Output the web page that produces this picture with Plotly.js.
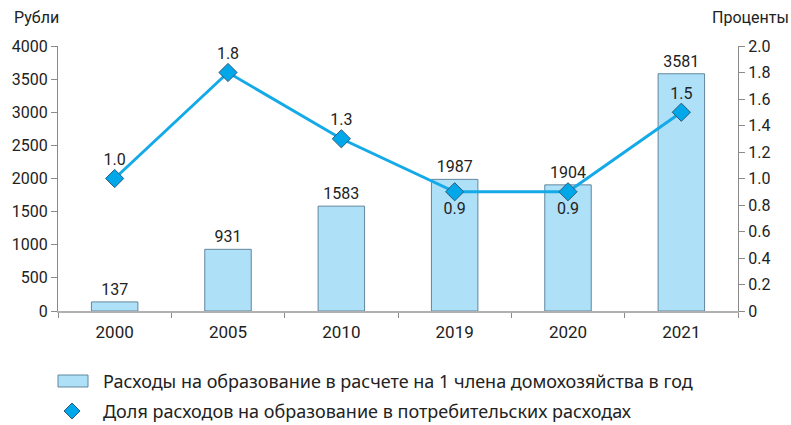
<!DOCTYPE html>
<html><head><meta charset="utf-8">
<script src="https://cdn.plot.ly/plotly-3.0.1.min.js"></script>
<style>body{margin:0;background:#fff}#c{width:791px;height:425px}</style>
</head><body><div id="c"></div>
<script>
const categories = ["2000","2005","2010","2019","2020","2021"];
const spending = [137, 931, 1583, 1987, 1904, 3581];
const share = [1.0, 1.8, 1.3, 0.9, 0.9, 1.5];
const shareLabelPos = ["top center","top center","top center","bottom center","bottom center","top center"];
const rightTickVals = [0, 0.2, 0.4, 0.6, 0.8, 1.0, 1.2, 1.4, 1.6, 1.8, 2.0];
const rightTickText = ["0", "0.2", "0.4", "0.6", "0.8", "1.0", "1.2", "1.4", "1.6", "1.8", "2.0"];
const barName = "Расходы на образование в расчете на 1 члена домохозяйства в год";
const lineName = "Доля расходов на образование в потребительских расходах";

const numFont = {family: "Roboto, Arial, sans-serif", size: 16, color: "#222"};
const legFont = {family: "'Noto Sans', 'Open Sans', sans-serif", size: 18, color: "#222"};

const traces = [
  {type: "bar", x: categories, y: spending, name: barName, width: 0.41,
   marker: {color: "#aee0f8", line: {color: "#62879e", width: 1}},
   text: spending.map(String), textposition: "outside", textfont: numFont,
   cliponaxis: false, showlegend: false},
  {type: "scatter", mode: "lines+markers+text", x: categories, y: share, yaxis: "y2", name: lineName,
   line: {color: "#14aae8", width: 3},
   marker: {symbol: "diamond", size: 14, color: "#00a8ea", line: {color: "#2b5a78", width: 1}},
   text: share.map(v => v.toFixed(1)), textposition: shareLabelPos, textfont: numFont,
   cliponaxis: false, showlegend: false}
];

const axisCommon = {showline: true, linecolor: "#8a8a8a", linewidth: 1, ticks: "outside",
  tickcolor: "#8a8a8a", ticklen: 6, showgrid: false, zeroline: false, tickfont: numFont};

const layout = {
  width: 791, height: 425,
  margin: {l: 58, r: 53, t: 46, b: 114},
  paper_bgcolor: "#fff", plot_bgcolor: "#fff",
  xaxis: Object.assign({}, axisCommon, {type: "category", tickson: "boundaries", ticklen: 5,
    ticklabelstandoff: 5,
    linecolor: "#b0b0b0", linewidth: 2, tickfont: Object.assign({}, numFont, {size: 17})}),
  yaxis: Object.assign({}, axisCommon, {range: [0, 4000], dtick: 500, tick0: 0}),
  yaxis2: Object.assign({}, axisCommon, {range: [0, 2], tickmode: "array",
    tickvals: rightTickVals, ticktext: rightTickText, overlaying: "y", side: "right"}),
  showlegend: false,
  annotations: [
    {xref: "paper", yref: "paper", x: -46/680, y: 1 + 29/265, xanchor: "left", yanchor: "middle",
     text: "Рубли", showarrow: false, font: {family: "Roboto, Arial, sans-serif", size: 16, color: "#222"}},
    {xref: "paper", yref: "paper", x: 1 + 53/680, y: 1 + 29/265, xanchor: "right", yanchor: "middle",
     text: "Проценты", showarrow: false, font: {family: "Roboto, Arial, sans-serif", size: 16, color: "#222"}},
    {xref: "paper", yref: "paper", x: 43/680, y: -(381-311)/265, xanchor: "left", yanchor: "middle",
     text: barName, showarrow: false, font: legFont},
    {xref: "paper", yref: "paper", x: 43/680, y: -(411-311)/265, xanchor: "left", yanchor: "middle",
     text: lineName, showarrow: false, font: legFont}
  ],
  shapes: [
    {type: "rect", xref: "paper", yref: "paper", x0: 0, x1: 30/680, y0: -(387-311)/265, y1: -(375-311)/265,
     fillcolor: "#aee0f8", line: {color: "#62879e", width: 1}},
    {type: "path", xref: "paper", yref: "paper",
     path: `M ${14/680} ${-(403-311)/265} L ${22/680} ${-(411-311)/265} L ${14/680} ${-(419-311)/265} L ${6/680} ${-(411-311)/265} Z`,
     fillcolor: "#00a8ea", line: {color: "#2b5a78", width: 1}}
  ]
};
Plotly.newPlot("c", traces, layout, {displayModeBar: false, staticPlot: true});
</script></body></html>
